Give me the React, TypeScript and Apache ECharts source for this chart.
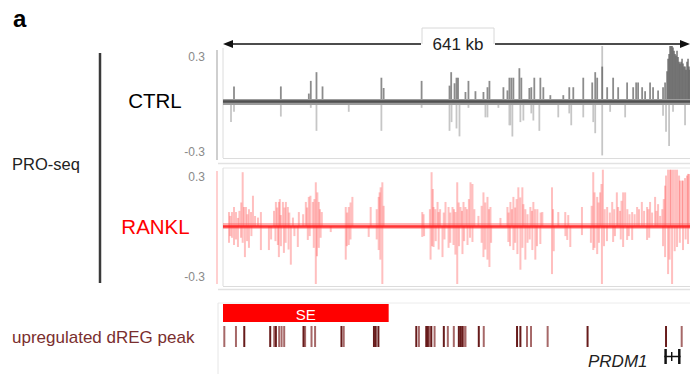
import React, { useEffect, useRef } from 'react';
import * as echarts from 'echarts';

// genomic window, kb
const SPAN_KB = 641;
const spanLabel = '641 kb';
const trackLabels = ['CTRL', 'RANKL'];
const groupLabel = 'PRO-seq';
const peakLabel = 'upregulated dREG peak';
const geneName = 'PRDM1';
const seLabel = 'SE';
const yTickLabels = ['0.3', '-0.3'];

// CTRL PRO-seq signal: [position kb, value]
const ctrlDark: [number, number][] = [
  [15.1, 0.095], [79.4, 0.095], [117.8, 0.05], [120.5, 0.13], [128.3, 0.185], [136.6, 0.095],
  [217.4, 0.15], [220.5, 0.085], [272.6, 0.13], [310.9, 0.1], [313.2, 0.185], [317.8, 0.115],
  [320.5, 0.15], [322.6, 0.15], [332.8, 0.06], [336.9, 0.13], [346.5, 0.065], [357.5, 0.06],
  [363.0, 0.09], [365.7, 0.13], [384.9, 0.09], [390.4, 0.07], [393.1, 0.15], [395.8, 0.15],
  [398.6, 0.15], [406.8, 0.21], [409.5, 0.15], [420.5, 0.085], [423.2, 0.09], [427.3, 0.15],
  [435.6, 0.15], [439.7, 0.09], [449.3, 0.04], [467.1, 0.04], [475.3, 0.09], [480.8, 0.09],
  [494.5, 0.15], [506.8, 0.12], [510.9, 0.185], [513.6, 0.15], [520.5, 0.22], [527.3, 0.09],
  [535.5, 0.15], [542.4, 0.09], [554.7, 0.12], [563.0, 0.09], [567.1, 0.12], [569.8, 0.12],
  [575.3, 0.09], [579.4, 0.065], [586.2, 0.12], [590.3, 0.09], [597.2, 0.07], [604.0, 0.09],
  [606.8, 0.12], [609.5, 0.19], [610.9, 0.27], [612.3, 0.3], [613.6, 0.36], [615.0, 0.36],
  [616.4, 0.36], [617.7, 0.34], [619.1, 0.32], [620.5, 0.3], [621.8, 0.29], [623.2, 0.32],
  [624.6, 0.28], [626.0, 0.25], [627.3, 0.24], [628.7, 0.25], [630.1, 0.27], [631.4, 0.24],
  [632.8, 0.22], [634.2, 0.22], [635.5, 0.2], [636.9, 0.25], [638.3, 0.27], [639.6, 0.22], [640.5, 0.2],
];
const ctrlLight: [number, number][] = [
  [11.0, -0.13], [15.1, -0.065], [79.4, -0.095], [120.5, -0.04], [128.3, -0.185], [172.6, -0.065],
  [217.4, -0.185], [272.6, -0.04], [310.9, -0.185], [313.7, -0.13], [320.5, -0.17], [324.6, -0.22],
  [336.9, -0.04], [360.2, -0.1], [363.0, -0.1], [378.0, -0.04], [393.1, -0.15], [394.5, -0.15],
  [397.2, -0.22], [408.2, -0.13], [412.3, -0.12], [423.2, -0.075], [426.0, -0.12], [434.2, -0.185],
  [460.2, -0.1], [475.3, -0.075], [478.0, -0.15], [494.5, -0.1], [508.2, -0.13], [510.9, -0.2],
  [520.5, -0.34], [520.5, 0.36], [531.4, -0.065], [552.0, -0.1], [604.0, -0.09], [608.1, -0.19],
  [612.3, -0.28], [617.7, -0.065], [634.2, -0.15],
];

// RANKL PRO-seq signal: [position kb, value]
const ranklPlus: [number, number][] = [
  [8.2, 0.083], [10.0, 0.06], [12.3, 0.083], [15.1, 0.113], [17.8, 0.083], [20.5, 0.048], [22.5, 0.09],
  [25.0, 0.14], [27.0, 0.32], [28.8, 0.113], [31.5, 0.113], [33.5, 0.07], [35.6, 0.1], [38.4, 0.083],
  [41.1, 0.18], [44.0, 0.06], [48.0, 0.05], [52.0, 0.083], [70.0, 0.09], [72.6, 0.143], [74.5, 0.11],
  [76.7, 0.143], [78.0, 0.16], [79.4, 0.065], [82.2, 0.143], [84.5, 0.11], [86.3, 0.143], [89.0, 0.113],
  [91.0, 0.08], [96.0, 0.05], [104.1, 0.083], [110.0, 0.07], [113.7, 0.143], [115.5, 0.11], [117.8, 0.173],
  [120.0, 0.18], [123.3, 0.143], [125.5, 0.16], [127.4, 0.26], [129.5, 0.2], [131.5, 0.143], [133.0, 0.1],
  [135.6, 0.083], [168.5, 0.113], [170.5, 0.08], [172.6, 0.113], [175.0, 0.14], [177.6, 0.173],
  [202.7, 0.113], [211.0, 0.1], [213.7, 0.173], [215.0, 0.2], [216.4, 0.23], [218.7, 0.26], [220.5, 0.12],
  [273.5, 0.083], [275.3, 0.07], [284.0, 0.1], [286.3, 0.32], [288.0, 0.22], [289.0, 0.113], [291.5, 0.1],
  [294.5, 0.143], [295.9, 0.083], [298.0, 0.1], [303.0, 0.08], [305.4, 0.143], [309.6, 0.113], [312.0, 0.08],
  [315.0, 0.113], [317.0, 0.1], [319.1, 0.083], [321.5, 0.26], [323.5, 0.14], [326.0, 0.113], [328.0, 0.09],
  [330.1, 0.143], [332.8, 0.113], [335.0, 0.1], [337.5, 0.16], [339.7, 0.26], [342.4, 0.25], [345.0, 0.1],
  [350.6, 0.06], [355.0, 0.12], [357.5, 0.2], [360.0, 0.14], [363.0, 0.173], [365.0, 0.1], [367.1, 0.113],
  [380.8, 0.048], [390.4, 0.113], [392.0, 0.08], [394.5, 0.143], [396.5, 0.1], [398.6, 0.173], [401.0, 0.11],
  [403.0, 0.16], [405.4, 0.23], [408.0, 0.17], [410.9, 0.23], [412.3, 0.13], [415.0, 0.1], [418.0, 0.07],
  [421.9, 0.113], [424.0, 0.09], [426.0, 0.143], [428.5, 0.1], [431.5, 0.1], [436.0, 0.08], [438.3, 0.083],
  [451.6, 0.23], [453.0, 0.1], [460.2, 0.083], [469.8, 0.083], [473.9, 0.065], [492.7, 0.113],
  [506.0, 0.12], [508.2, 0.32], [510.0, 0.2], [513.6, 0.173], [515.5, 0.14], [517.7, 0.2], [519.5, 0.25],
  [521.4, 0.335], [524.0, 0.1], [527.3, 0.113], [531.0, 0.08], [534.2, 0.143], [537.0, 0.1], [540.6, 0.2],
  [542.4, 0.113], [545.0, 0.09], [547.0, 0.15], [549.2, 0.2], [552.0, 0.2], [555.0, 0.1], [558.0, 0.07],
  [561.6, 0.083], [565.0, 0.07], [568.4, 0.113], [571.0, 0.1], [574.9, 0.143], [578.0, 0.09], [582.1, 0.113],
  [584.0, 0.1], [586.2, 0.143], [589.0, 0.08], [593.1, 0.173], [595.0, 0.09], [597.2, 0.13], [600.0, 0.06],
  [603.0, 0.1], [605.0, 0.16], [606.8, 0.24], [608.1, 0.3], [610.9, 0.335], [613.6, 0.335], [615.0, 0.335],
  [617.7, 0.335], [620.5, 0.335], [623.2, 0.335], [626.0, 0.3], [627.3, 0.27], [630.1, 0.27], [631.4, 0.27],
  [634.2, 0.285], [636.9, 0.3], [638.3, 0.31], [640.0, 0.31],
];
const ranklMinus: [number, number][] = [
  [8.2, -0.1], [10.0, -0.06], [12.3, -0.07], [15.1, -0.113], [17.8, -0.08], [20.5, -0.125], [24.7, -0.07],
  [27.0, -0.1], [30.1, -0.185], [33.0, -0.09], [35.6, -0.13], [39.0, -0.06], [52.0, -0.143], [63.0, -0.143],
  [66.0, -0.08], [72.0, -0.09], [75.3, -0.113], [76.7, -0.185], [79.5, -0.12], [83.6, -0.16], [86.0, -0.1],
  [90.0, -0.14], [93.1, -0.23], [98.0, -0.06], [102.7, -0.125], [116.4, -0.083], [119.0, -0.06],
  [124.6, -0.13], [127.4, -0.35], [129.0, -0.18], [131.5, -0.13], [134.0, -0.07], [147.9, -0.036],
  [168.5, -0.2], [170.0, -0.12], [172.6, -0.113], [175.0, -0.08], [200.0, -0.065], [211.0, -0.08],
  [213.7, -0.143], [216.0, -0.2], [218.7, -0.35], [273.5, -0.065], [276.0, -0.06], [284.9, -0.2],
  [287.0, -0.12], [289.0, -0.125], [292.0, -0.09], [296.0, -0.14], [301.3, -0.185], [304.0, -0.08],
  [309.6, -0.13], [312.0, -0.1], [316.4, -0.113], [319.0, -0.17], [321.5, -0.345], [324.0, -0.12],
  [328.7, -0.167], [331.0, -0.09], [335.6, -0.113], [339.0, -0.07], [342.4, -0.095], [355.0, -0.1],
  [357.5, -0.185], [360.0, -0.14], [363.0, -0.2], [365.7, -0.244], [368.0, -0.1], [391.7, -0.095],
  [394.0, -0.12], [398.6, -0.143], [401.0, -0.1], [404.1, -0.167], [408.2, -0.26], [411.0, -0.13],
  [415.0, -0.2], [418.0, -0.1], [421.0, -0.08], [424.6, -0.143], [428.7, -0.2], [431.0, -0.12],
  [435.6, -0.107], [451.6, -0.286], [454.0, -0.15], [470.0, -0.06], [472.5, -0.083], [476.7, -0.125],
  [492.7, -0.054], [505.0, -0.1], [508.2, -0.143], [510.0, -0.13], [513.6, -0.167], [516.0, -0.1],
  [520.1, -0.345], [523.0, -0.12], [527.0, -0.09], [535.5, -0.095], [538.0, -0.06], [546.0, -0.08],
  [549.2, -0.125], [554.7, -0.083], [557.0, -0.06], [561.6, -0.083], [582.1, -0.083], [585.0, -0.07],
  [604.0, -0.12], [606.8, -0.185], [610.9, -0.286], [613.0, -0.2], [616.4, -0.345], [620.0, -0.15],
  [623.2, -0.125], [627.0, -0.1], [631.4, -0.143], [635.0, -0.08], [638.3, -0.107],
];

// dREG peak positions (kb)
const dregStrong: number[] = [
  29.2, 64.8, 72.6, 110.5, 162.6, 207.2, 209.6, 213.3, 265.3, 279.0, 281.2, 285.9, 303.1,
  323.7, 326.0, 328.3, 351.1, 403.6, 408.2, 500.4, 608.1,
];
const dregFaint: number[] = [
  1.8, 17.8, 70.3, 77.1, 80.4, 84.0, 112.7, 121.5, 126.4, 165.7, 268.9, 283.5, 290.4, 308.6,
  316.8, 330.5, 332.8, 357.9, 417.3, 422.8, 445.6, 629.6,
];
// super-enhancer [start, end] kb
const superEnhancer: [number, number][] = [[0, 227.4]];
// PRDM1 exons [start, end] kb
const geneExons: [number, number][] = [[605.8, 609.2], [614.9, 616.9], [624.6, 628.0]];

const FONT = '"Liberation Sans", Arial, Helvetica, sans-serif';

export default function App() {
  const ref = useRef<HTMLDivElement>(null);
  useEffect(() => {
    document.body.style.margin = '0';
    if (!ref.current) return;
    const chart = echarts.init(ref.current, null, { renderer: 'svg' });
    const L = 223;
    const W = 467;
    const xAxisBase = (i: number) => ({
      type: 'value', gridIndex: i, min: 0, max: SPAN_KB, show: false,
    });
    const baseline = (halo: string, core: string) => ({
      silent: true, symbol: ['none', 'none'], label: { show: false },
      lineStyle: { type: 'solid' },
      data: [
        { yAxis: 0, lineStyle: { color: halo, width: 6, type: 'solid' } },
        { yAxis: 0, lineStyle: { color: core, width: 2.5, type: 'solid' } },
      ],
    });
    const peakRender = (fill: string) => (params: any, api: any) => {
      const p1 = api.coord([api.value(0), 23]);
      const p2 = api.coord([api.value(0), 44]);
      return { type: 'rect', shape: { x: p1[0] - 1, y: p1[1], width: 2, height: p2[1] - p1[1] }, style: { fill } };
    };
    const option: any = {
      animation: false,
      textStyle: { fontFamily: FONT },
      grid: [
        { left: L, width: W, top: 46, height: 111 },
        { left: L, width: W, top: 168, height: 116 },
        { left: L, width: W, top: 303, height: 71 },
      ],
      xAxis: [xAxisBase(0), xAxisBase(1), xAxisBase(2)],
      yAxis: [
        { type: 'value', gridIndex: 0, min: -0.35, max: 0.35, show: false },
        { type: 'value', gridIndex: 1, min: -0.345, max: 0.345, show: false },
        { type: 'value', gridIndex: 2, min: 0, max: 71, inverse: true, show: false },
      ],
      series: [
        { type: 'bar', xAxisIndex: 0, yAxisIndex: 0, data: ctrlLight, barWidth: 1.8, barGap: '-100%', itemStyle: { color: '#c6c6c6' }, silent: true },
        { type: 'bar', xAxisIndex: 0, yAxisIndex: 0, data: ctrlDark, barWidth: 1.8, barGap: '-100%', itemStyle: { color: 'rgba(95,95,95,0.72)' }, silent: true, markLine: baseline('#9c9c9c', '#505050') },
        { type: 'bar', xAxisIndex: 1, yAxisIndex: 1, data: ranklMinus, barWidth: 2, barGap: '-100%', itemStyle: { color: 'rgba(255,60,60,0.33)' }, silent: true },
        { type: 'bar', xAxisIndex: 1, yAxisIndex: 1, data: ranklPlus, barWidth: 2, barGap: '-100%', itemStyle: { color: 'rgba(255,60,60,0.33)' }, silent: true, markLine: baseline('rgba(255,90,90,0.45)', 'rgba(255,30,30,0.85)') },
        {
          type: 'custom', xAxisIndex: 2, yAxisIndex: 2, data: superEnhancer, silent: true,
          encode: { x: [0, 1] },
          renderItem: (params: any, api: any) => {
            const p1 = api.coord([api.value(0), 1]);
            const p2 = api.coord([api.value(1), 19]);
            return {
              type: 'group', children: [
                { type: 'rect', shape: { x: p1[0], y: p1[1], width: p2[0] - p1[0], height: p2[1] - p1[1] }, style: { fill: '#ff0000' } },
                { type: 'text', style: { text: seLabel, x: (p1[0] + p2[0]) / 2, y: (p1[1] + p2[1]) / 2 + 1, fill: '#ffffff', fontSize: 15, fontFamily: FONT, align: 'center', verticalAlign: 'middle' } },
              ],
            };
          },
        },
        { type: 'custom', xAxisIndex: 2, yAxisIndex: 2, data: dregFaint.map((v) => [v, 0]), silent: true, encode: { x: 0 }, renderItem: peakRender('#a66868') },
        { type: 'custom', xAxisIndex: 2, yAxisIndex: 2, data: dregStrong.map((v) => [v, 0]), silent: true, encode: { x: 0 }, renderItem: peakRender('#671b1b') },
        {
          type: 'custom', xAxisIndex: 2, yAxisIndex: 2, data: geneExons, silent: true, encode: { x: [0, 1] },
          renderItem: (params: any, api: any) => {
            const p1 = api.coord([api.value(0), 46]);
            const p2 = api.coord([api.value(1), 61]);
            const mid = params.dataIndex === 1;
            const children: any[] = [
              { type: 'rect', shape: { x: p1[0], y: mid ? p1[1] + 3 : p1[1], width: p2[0] - p1[0], height: mid ? p2[1] - p1[1] - 6 : p2[1] - p1[1] }, style: { fill: '#111' } },
            ];
            if (params.dataIndex === 0) {
              const e = api.coord([geneExons[geneExons.length - 1][1], 53.5]);
              children.push({ type: 'line', shape: { x1: p1[0], y1: e[1], x2: e[0], y2: e[1] }, style: { stroke: '#111', lineWidth: 1.5 } });
            }
            return { type: 'group', children };
          },
        },
      ],
      graphic: [
        { type: 'text', x: 13, y: 18, style: { text: 'a', fontSize: 24, fontWeight: 'bold', fontFamily: FONT, fill: '#000', verticalAlign: 'middle' } },
        // span arrow
        { type: 'line', shape: { x1: 230, y1: 44, x2: 421, y2: 44 }, style: { stroke: '#111', lineWidth: 1.6 } },
        { type: 'line', shape: { x1: 495, y1: 44, x2: 683, y2: 44 }, style: { stroke: '#111', lineWidth: 1.6 } },
        { type: 'polygon', shape: { points: [[223, 44], [233, 40], [233, 48]] }, style: { fill: '#111' } },
        { type: 'polygon', shape: { points: [[690, 44], [680, 40], [680, 48]] }, style: { fill: '#111' } },
        { type: 'polyline', shape: { points: [[422, 44], [422, 28], [494, 28], [494, 44]] }, style: { stroke: '#d8d8d8', lineWidth: 1, fill: 'none' } },
        { type: 'text', x: 458, y: 44, style: { text: spanLabel, fontSize: 17, fontFamily: FONT, fill: '#222', align: 'center', verticalAlign: 'middle' } },
        // track frames
        { type: 'line', shape: { x1: 223, y1: 48, x2: 223, y2: 158 }, style: { stroke: '#dcdcdc', lineWidth: 1 } },
        { type: 'line', shape: { x1: 223, y1: 158.5, x2: 690, y2: 158.5 }, style: { stroke: '#dcdcdc', lineWidth: 1 } },
        { type: 'line', shape: { x1: 218, y1: 163.5, x2: 690, y2: 163.5 }, style: { stroke: '#e2e2e2', lineWidth: 1.5 } },
        { type: 'line', shape: { x1: 223, y1: 168, x2: 690, y2: 168 }, style: { stroke: '#e6e6e6', lineWidth: 1 } },
        { type: 'line', shape: { x1: 223, y1: 168, x2: 223, y2: 286 }, style: { stroke: '#dcdcdc', lineWidth: 1 } },
        { type: 'line', shape: { x1: 223, y1: 286.5, x2: 690, y2: 286.5 }, style: { stroke: '#dcdcdc', lineWidth: 1 } },
        { type: 'line', shape: { x1: 218, y1: 289.5, x2: 690, y2: 289.5 }, style: { stroke: '#e2e2e2', lineWidth: 1.5 } },
        { type: 'line', shape: { x1: 218, y1: 303, x2: 690, y2: 303 }, style: { stroke: '#ececec', lineWidth: 1 } },
        { type: 'line', shape: { x1: 218, y1: 303, x2: 218, y2: 374 }, style: { stroke: '#e6e6e6', lineWidth: 1 } },
        // left scale bars
        { type: 'line', shape: { x1: 217, y1: 50, x2: 217, y2: 160 }, style: { stroke: '#cfcfcf', lineWidth: 2 } },
        { type: 'line', shape: { x1: 217, y1: 171, x2: 217, y2: 284 }, style: { stroke: 'rgba(255,120,120,0.35)', lineWidth: 2 } },
        { type: 'text', x: 205, y: 57, style: { text: yTickLabels[0], fontSize: 12, fontFamily: FONT, fill: '#8a8a8a', align: 'right', verticalAlign: 'middle' } },
        { type: 'text', x: 205, y: 152, style: { text: yTickLabels[1], fontSize: 12, fontFamily: FONT, fill: '#8a8a8a', align: 'right', verticalAlign: 'middle' } },
        { type: 'text', x: 205, y: 177, style: { text: yTickLabels[0], fontSize: 12, fontFamily: FONT, fill: '#8a8a8a', align: 'right', verticalAlign: 'middle' } },
        { type: 'text', x: 205, y: 277, style: { text: yTickLabels[1], fontSize: 12, fontFamily: FONT, fill: '#8a8a8a', align: 'right', verticalAlign: 'middle' } },
        // track labels
        { type: 'text', x: 155, y: 100, style: { text: trackLabels[0], fontSize: 20.5, fontFamily: FONT, fill: '#000', align: 'center', verticalAlign: 'middle' } },
        { type: 'text', x: 155.5, y: 226, style: { text: trackLabels[1], fontSize: 20.5, fontFamily: FONT, fill: '#ff0000', align: 'center', verticalAlign: 'middle' } },
        { type: 'line', shape: { x1: 100, y1: 53, x2: 100, y2: 283 }, style: { stroke: '#3a3a3a', lineWidth: 2.5 } },
        { type: 'text', x: 12, y: 164, style: { text: groupLabel, fontSize: 16.5, fontFamily: FONT, fill: '#222', verticalAlign: 'middle' } },
        { type: 'text', x: 12, y: 337, style: { text: peakLabel, fontSize: 17, fontFamily: FONT, fill: '#7a2e2e', verticalAlign: 'middle' } },
        { type: 'text', x: 588, y: 361, style: { text: geneName, fontSize: 17, fontStyle: 'italic', fontFamily: FONT, fill: '#222', verticalAlign: 'middle' } },
      ],
    };
    chart.setOption(option);
    return () => chart.dispose();
  }, []);
  return <div ref={ref} style={{ width: 690, height: 374 }} />;
}
